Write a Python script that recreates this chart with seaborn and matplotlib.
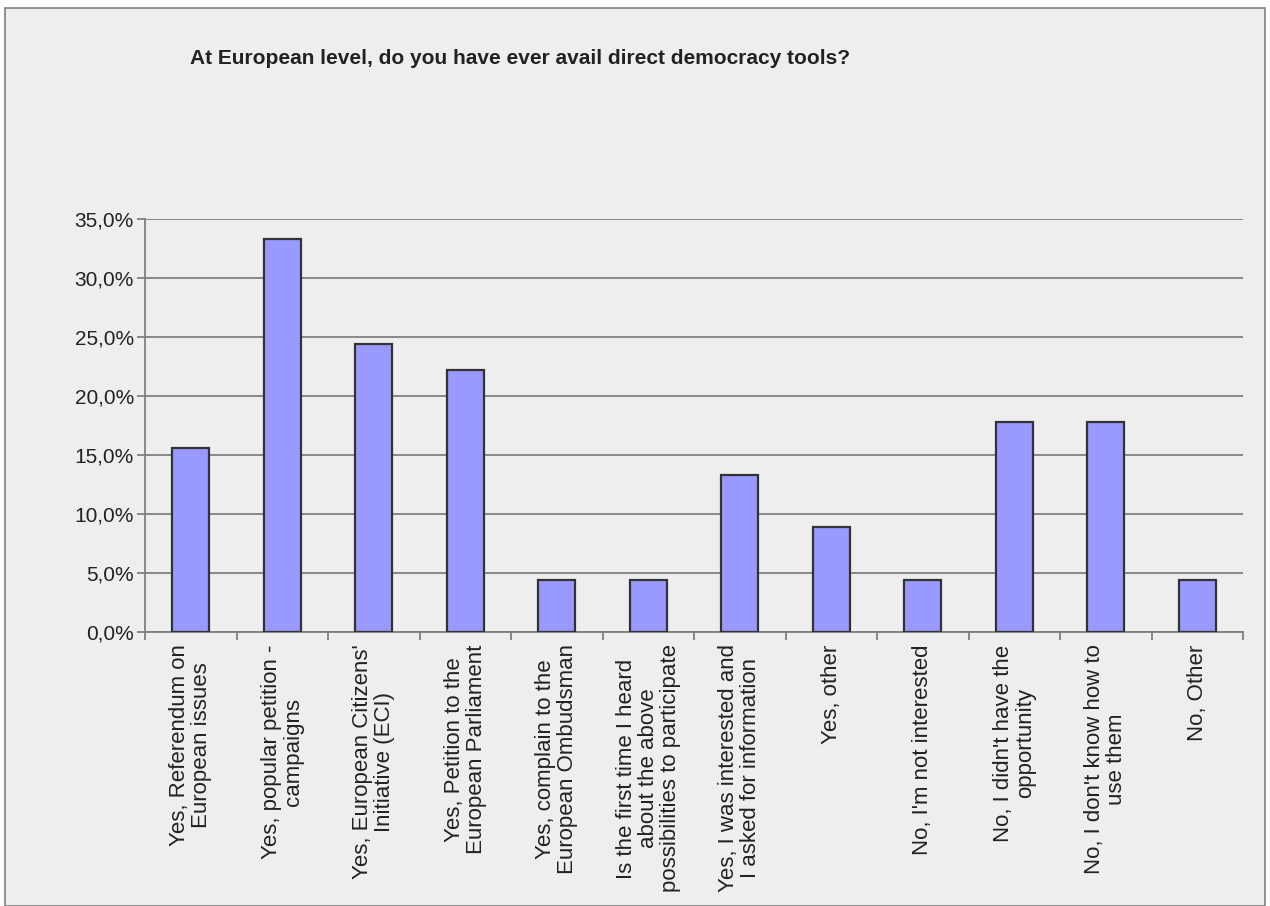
import matplotlib
matplotlib.use("Agg")
import matplotlib.pyplot as plt
from matplotlib.ticker import FuncFormatter, FixedLocator
from matplotlib.patches import Rectangle
import seaborn as sns
import pandas as pd
import numpy as np

title = "At European level, do you have ever avail direct democracy tools?"

categories = [
    "Yes, Referendum on\nEuropean issues",
    "Yes, popular petition -\ncampaigns",
    "Yes, European Citizens'\nInitiative (ECI)",
    "Yes, Petition to the\nEuropean Parliament",
    "Yes, complain to the\nEuropean Ombudsman",
    "Is the first time I heard\nabout the above\npossibilities to participate",
    "Yes, I was interested and\nI asked for information",
    "Yes, other",
    "No, I'm not interested",
    "No, I didn't have the\nopportunity",
    "No, I don't know how to\nuse them",
    "No, Other",
]
shares = [15.6, 33.3, 24.4, 22.2, 4.4, 4.4, 13.3, 8.9, 4.4, 17.8, 17.8, 4.4]
yticks = [0, 5, 10, 15, 20, 25, 30, 35]

df = pd.DataFrame({"answer": categories, "share": shares})

sns.set_style("white")
plt.rcParams["font.family"] = ["Liberation Sans", "DejaVu Sans"]

bg = "#eeeeee"
fig = plt.figure(figsize=(12.7, 9.06), dpi=100, facecolor="white")
ax = fig.add_axes([145 / 1270, 1 - 632 / 906, (1243 - 145) / 1270, (632 - 219) / 906])
fig.patches.append(Rectangle((5 / 1270, 0), 1260 / 1270, 1 - 8 / 906, transform=fig.transFigure,
                             facecolor=bg, edgecolor="#7f7f7f", linewidth=1.2, zorder=-10))
ax.set_facecolor(bg)

sns.barplot(data=df, x="answer", y="share", color="#9999ff", saturation=1,
            width=0.4, edgecolor="#333333", linewidth=1.6, ax=ax, zorder=3)

ax.set_ylim(0, 35)
ax.set_xlim(-0.5, len(categories) - 0.5)
ax.yaxis.set_major_locator(FixedLocator(yticks))
ax.yaxis.set_major_formatter(FuncFormatter(lambda v, p: f"{v:.1f}".replace(".", ",") + "%"))
ax.grid(axis="y", color="#808080", linewidth=1.3, zorder=0)
ax.set_axisbelow(True)

for s in ["top", "right"]:
    ax.spines[s].set_visible(False)
for s in ["left", "bottom"]:
    ax.spines[s].set_color("#808080")
    ax.spines[s].set_linewidth(1.3)

ax.tick_params(axis="y", direction="out", length=6, width=1.3, color="#808080",
               labelsize=15, labelcolor="#222222", pad=2, left=True)
ax.set_xticks(np.arange(len(categories) + 1) - 0.5, minor=True)
ax.tick_params(axis="x", which="minor", direction="out", length=6, width=1.3, color="#808080", bottom=True)
ax.tick_params(axis="x", which="major", length=0, pad=9, labelsize=16, labelcolor="#222222")
ax.set_xticks(range(len(categories)))
ax.set_xticklabels(categories, rotation=90, ha="center", va="top", multialignment="center",
                   linespacing=1.05)
ax.set_xlabel("")
ax.set_ylabel("")

fig.text(190 / 1270, 1 - 58 / 906, title, fontsize=15, fontweight="bold",
         ha="left", va="center", color="#222222")

fig.savefig("out.png", dpi=100, facecolor="white")
